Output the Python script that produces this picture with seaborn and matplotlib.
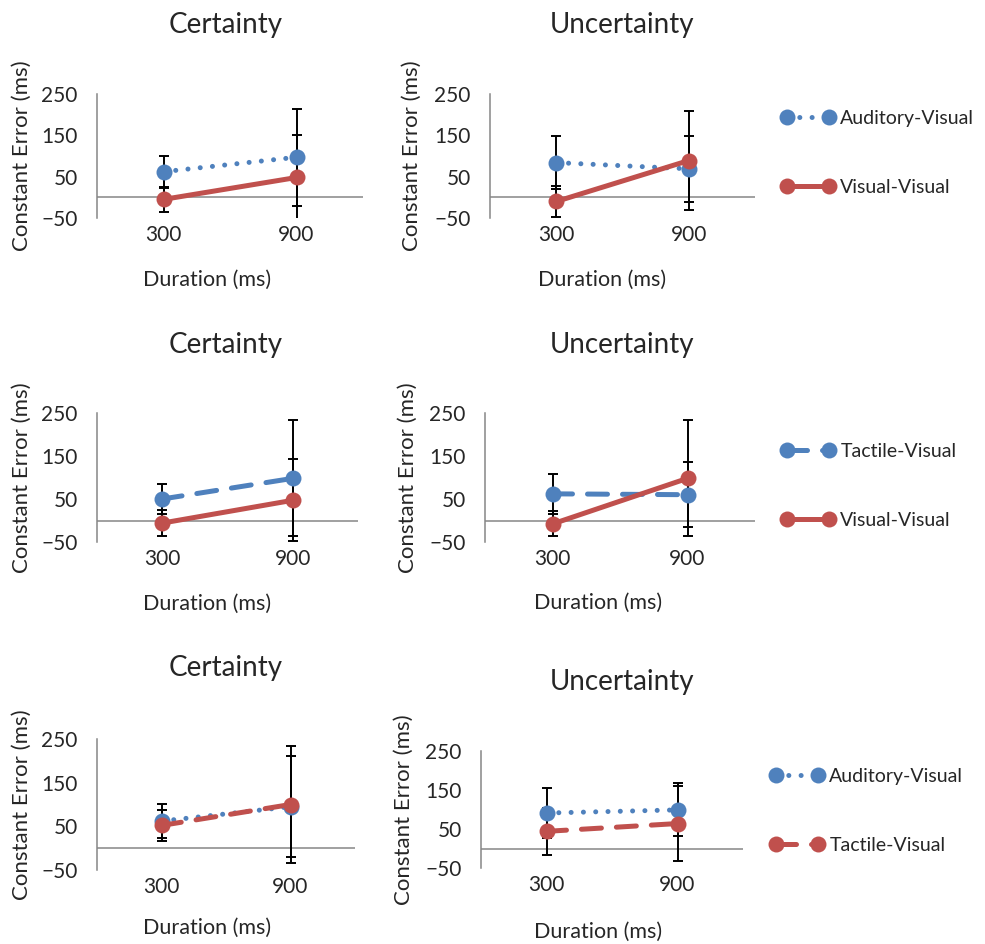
# plot.py
# Constant error by duration, certainty vs uncertainty, three modality pairings.

import matplotlib
matplotlib.use("Agg")
import matplotlib.pyplot as plt
import seaborn as sns

# ---- data ----
durations = ["300", "900"]

# row 1: Auditory-Visual vs Visual-Visual
cert_av_1 = [62, 97]
cert_av_1_err = [39, 117]
cert_vv_1 = [-5, 48]
cert_vv_1_err = [30, 103]
unc_av_1 = [84, 69]
unc_av_1_err = [64, 80]
unc_vv_1 = [-10, 89]
unc_vv_1_err = [38, 120]

# row 2: Tactile-Visual vs Visual-Visual
cert_tv_2 = [50, 98]
cert_tv_2_err = [35, 135]
cert_vv_2 = [-6, 47]
cert_vv_2_err = [30, 95]
unc_tv_2 = [62, 60]
unc_tv_2_err = [46, 75]
unc_vv_2 = [-8, 98]
unc_vv_2_err = [29, 135]

# row 3: Auditory-Visual vs Tactile-Visual
cert_av_3 = [62, 95]
cert_av_3_err = [39, 116]
cert_tv_3 = [52, 100]
cert_tv_3_err = [35, 135]
unc_av_3 = [91, 99]
unc_av_3_err = [65, 68]
unc_tv_3 = [44, 64]
unc_tv_3_err = [61, 95]

yticks = [-50, 50, 150, 250]

BLUE = "#4F81BD"
RED = "#C0504D"
GREY = "#868686"
DOTTED = (0, (0.01, 2.45))
DASHED = (0, (4, 3))
SOLID = "-"

W, H = 985, 944


def fx(px):
    return px / W


def fy(py):
    return 1 - py / H


def draw_panel(fig, box, title, title_pos, xlab_pos, ylab_x, series):
    left, top, right, bottom = box
    ax = fig.add_axes([fx(left), fy(bottom), fx(right - left), (bottom - top) / H])
    lines = []
    for label, values, err, color, style in series:
        ax.errorbar(durations, values, yerr=err, fmt="none", ecolor="black",
                    elinewidth=1.4, capsize=3.6, capthick=1.4, zorder=2)
        sns.lineplot(x=durations, y=values, ax=ax, color=color, marker="o",
                     markersize=11.5, markeredgewidth=0, linewidth=3.6,
                     linestyle=style, dash_capstyle="round", sort=False,
                     legend=False, label=label, zorder=3)
        lines.append(ax.lines[-1])
    ax.set_xlim(-0.5, 1.5)
    ax.set_ylim(-50, 250)
    ax.set_yticks(yticks)
    ax.axhline(0, color=GREY, linewidth=1.1, zorder=1)
    for side in ["top", "right", "bottom"]:
        ax.spines[side].set_visible(False)
    ax.spines["left"].set_color(GREY)
    ax.spines["left"].set_linewidth(1.1)
    ax.tick_params(axis="y", length=0, pad=14, labelsize=15)
    ax.tick_params(axis="x", length=0, pad=5, labelsize=15)
    ax.set_xlabel("")
    ax.set_ylabel("")
    ax.grid(False)

    fig.text(fx(title_pos[0]), fy(title_pos[1]), title, ha="center", va="center", fontsize=20)
    fig.text(fx(xlab_pos[0]), fy(xlab_pos[1]), "Duration (ms)", ha="center", va="center", fontsize=15.5)
    fig.text(fx(ylab_x), fy((top + bottom) / 2), "Constant Error (ms)", ha="center",
             va="center", rotation=90, fontsize=16)
    return ax, lines


def add_legend(fig, lines, x_px, y_px):
    fig.legend(handles=lines, labels=[l.get_label() for l in lines],
               loc="center left", bbox_to_anchor=(fx(x_px), fy(y_px)),
               frameon=False, numpoints=2, handlelength=2.75, handletextpad=0.3,
               labelspacing=2.7, borderpad=0, borderaxespad=0, fontsize=14)


if __name__ == "__main__":
    sns.set_style("white")
    plt.rcParams["font.family"] = ["Lato", "DejaVu Sans"]

    fig = plt.figure(figsize=(9.85, 9.44), dpi=100)

    # row 1
    draw_panel(fig, (97, 94, 363, 218), "Certainty", (226, 25), (207, 280), 22,
               [("Auditory-Visual", cert_av_1, cert_av_1_err, BLUE, DOTTED),
                ("Visual-Visual", cert_vv_1, cert_vv_1_err, RED, SOLID)])
    _, lines1 = draw_panel(fig, (490, 94, 755, 218), "Uncertainty", (622, 25), (602, 280), 412,
                           [("Auditory-Visual", unc_av_1, unc_av_1_err, BLUE, DOTTED),
                            ("Visual-Visual", unc_vv_1, unc_vv_1_err, RED, SOLID)])
    add_legend(fig, lines1, 781, 153)

    # row 2
    draw_panel(fig, (97, 413, 358, 542), "Certainty", (226, 345), (207, 604), 22,
               [("Tactile-Visual", cert_tv_2, cert_tv_2_err, BLUE, DASHED),
                ("Visual-Visual", cert_vv_2, cert_vv_2_err, RED, SOLID)])
    _, lines2 = draw_panel(fig, (485, 413, 755, 542), "Uncertainty", (622, 345), (598, 603), 408,
                           [("Tactile-Visual", unc_tv_2, unc_tv_2_err, BLUE, DASHED),
                            ("Visual-Visual", unc_vv_2, unc_vv_2_err, RED, SOLID)])
    add_legend(fig, lines2, 781, 486)

    # row 3
    draw_panel(fig, (97, 739, 355, 870), "Certainty", (226, 668), (207, 928), 22,
               [("Auditory-Visual", cert_av_3, cert_av_3_err, BLUE, DOTTED),
                ("Tactile-Visual", cert_tv_3, cert_tv_3_err, RED, DASHED)])
    _, lines3 = draw_panel(fig, (481, 751, 743, 868), "Uncertainty", (622, 682), (598, 932), 404,
                           [("Auditory-Visual", unc_av_3, unc_av_3_err, BLUE, DOTTED),
                            ("Tactile-Visual", unc_tv_3, unc_tv_3_err, RED, DASHED)])
    add_legend(fig, lines3, 770, 811)

    fig.savefig("out.png", dpi=100)
